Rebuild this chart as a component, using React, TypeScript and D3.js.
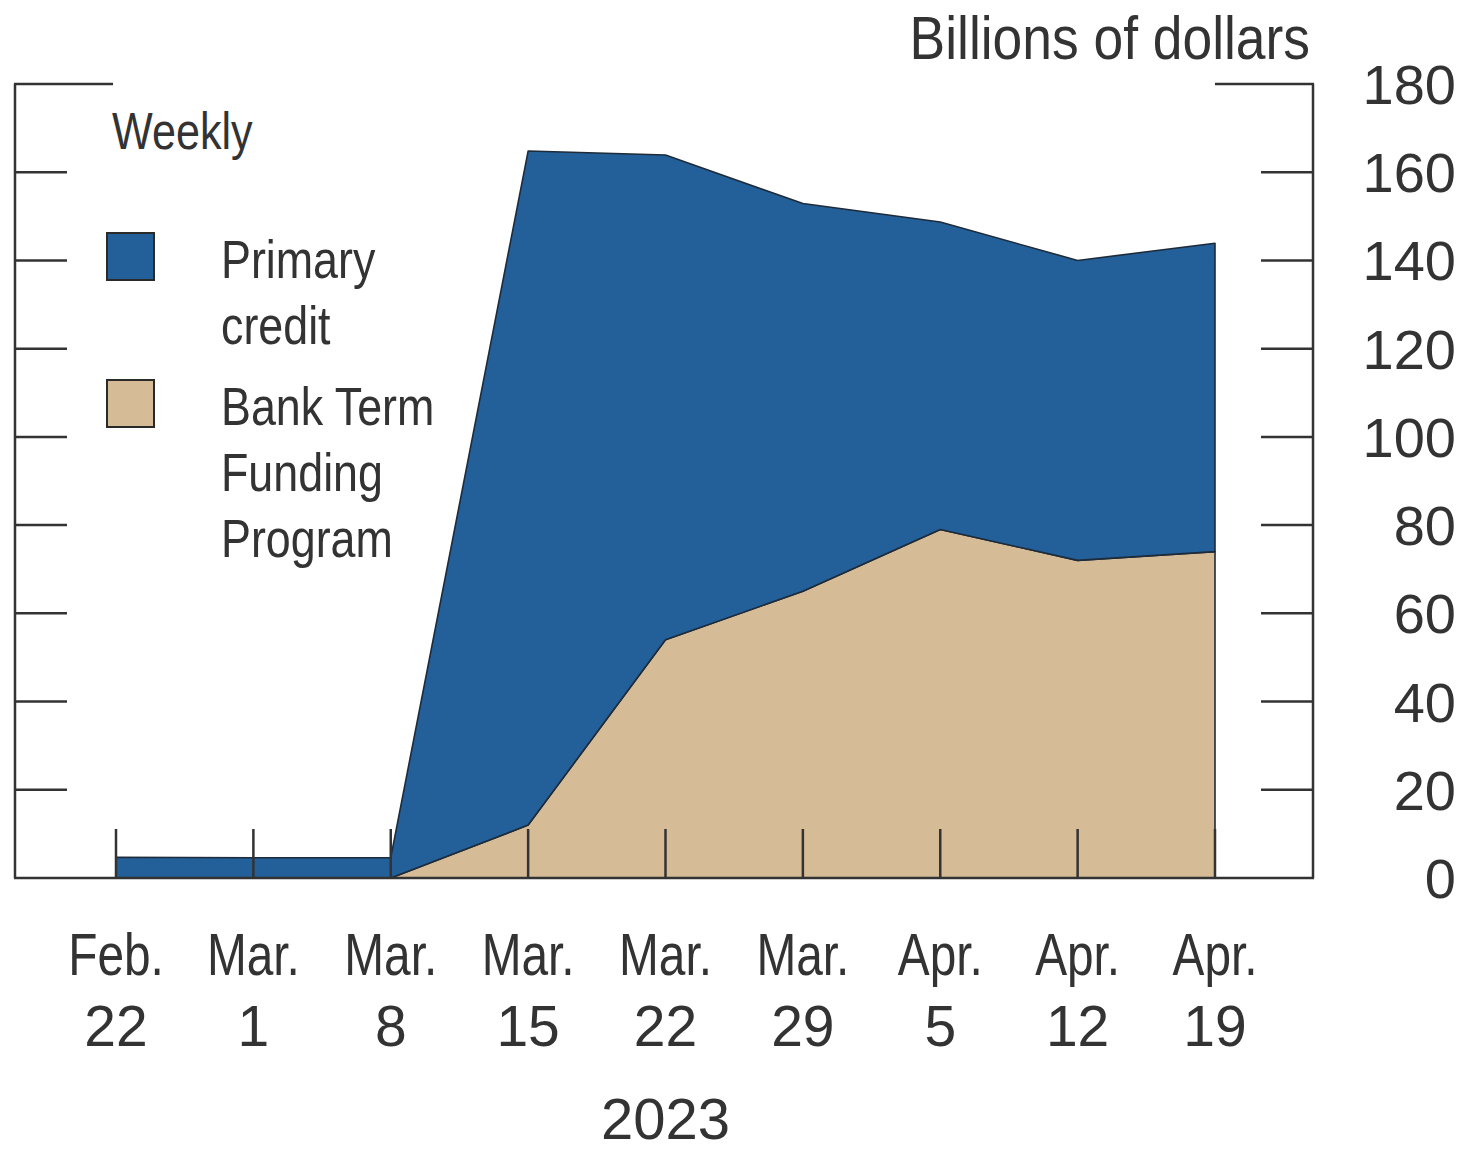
import React from "react";
import * as d3 from "d3";

const months = ["Feb.", "Mar.", "Mar.", "Mar.", "Mar.", "Mar.", "Apr.", "Apr.", "Apr."];
const days = ["22", "1", "8", "15", "22", "29", "5", "12", "19"];
const dates = months.map((m, i) => `${m} ${days[i]}`);
const btfp = [0, 0, 0, 12, 54, 65, 79, 72, 74];
const primaryCredit = [4.7, 4.6, 4.6, 152.8, 109.9, 87.9, 69.7, 68, 69.9];
const yTicks = [0, 20, 40, 60, 80, 100, 120, 140, 160, 180];
const yearLabel = "2023";
const unitLabel = "Billions of dollars";
const frequencyLabel = "Weekly";
const legendItems = [
  { key: "primary", lines: ["Primary", "credit"], color: "#23609a" },
  { key: "btfp", lines: ["Bank Term", "Funding", "Program"], color: "#d6bb97" },
];

const W = 1473;
const H = 1153;
const frameL = 15;
const frameR = 1313;
const ink = "#333";
const font = "'Liberation Sans', Arial, sans-serif";

function CondText({
  x,
  y,
  size,
  anchor = "start",
  sx = 0.83,
  children,
}: {
  x: number;
  y: number;
  size: number;
  anchor?: string;
  sx?: number;
  children: React.ReactNode;
}) {
  return (
    <g transform={`translate(${x},${y}) scale(${sx},1)`}>
      <text x={0} y={0} textAnchor={anchor as any} fontFamily={font} fontSize={size} fill={ink}>
        {children}
      </text>
    </g>
  );
}

export default function App() {
  const x = d3.scalePoint<string>().domain(dates).range([116, 1215]);
  const y = d3.scaleLinear().domain([0, 180]).range([878, 84]);

  const rows = dates.map((d, i) => ({ date: d, btfp: btfp[i], primary: primaryCredit[i] }));
  const series = d3.stack<any>().keys(["btfp", "primary"])(rows);
  const area = d3
    .area<any>()
    .x((d) => x(d.data.date) as number)
    .y0((d) => y(d[0]))
    .y1((d) => y(d[1]));
  const colors: Record<string, string> = { btfp: "#d6bb97", primary: "#23609a" };

  return (
    <svg
      width={W}
      height={H}
      style={{ position: "absolute", left: 0, top: 0, background: "#fff" }}
    >
      {/* areas */}
      {series.map((s) => (
        <path
          key={s.key}
          d={area(s) || ""}
          fill={colors[s.key]}
          stroke="#1d2b3a"
          strokeWidth={1.6}
          strokeLinejoin="round"
        />
      ))}

      {/* frame */}
      <line x1={frameL} x2={frameL} y1={y(180)} y2={y(0)} stroke={ink} strokeWidth={2.5} />
      <line x1={frameR} x2={frameR} y1={y(180)} y2={y(0)} stroke={ink} strokeWidth={2.5} />
      <line x1={frameL - 1} x2={frameR + 1} y1={y(0)} y2={y(0)} stroke={ink} strokeWidth={2.5} />
      <line x1={frameL - 1} x2={113} y1={y(180)} y2={y(180)} stroke={ink} strokeWidth={2.5} />
      <line x1={1215} x2={frameR + 1} y1={y(180)} y2={y(180)} stroke={ink} strokeWidth={2.5} />

      {/* y ticks */}
      {yTicks
        .filter((t) => t > 0 && t < 180)
        .map((t) => (
          <g key={t}>
            <line x1={frameL} x2={frameL + 52} y1={y(t)} y2={y(t)} stroke={ink} strokeWidth={2.5} />
            <line x1={frameR - 52} x2={frameR} y1={y(t)} y2={y(t)} stroke={ink} strokeWidth={2.5} />
          </g>
        ))}
      {yTicks.map((t) => (
        <text
          key={"l" + t}
          x={1456}
          y={y(t) + 20}
          textAnchor="end"
          fontFamily={font}
          fontSize={56}
          fill={ink}
        >
          {t}
        </text>
      ))}

      {/* x ticks */}
      {dates.map((d) => (
        <line
          key={d}
          x1={x(d) as number}
          x2={x(d) as number}
          y1={y(0)}
          y2={y(0) - 49}
          stroke={ink}
          strokeWidth={2.5}
        />
      ))}
      {dates.map((d, i) => (
        <g key={"xl" + d}>
          <CondText x={x(d) as number} y={975} size={59} anchor="middle" sx={0.81}>
            {months[i]}
          </CondText>
          <text
            x={x(d) as number}
            y={1046}
            textAnchor="middle"
            fontFamily={font}
            fontSize={57}
            fill={ink}
          >
            {days[i]}
          </text>
        </g>
      ))}
      <text
        x={x(dates[4]) as number}
        y={1139}
        textAnchor="middle"
        fontFamily={font}
        fontSize={58}
        fill={ink}
      >
        {yearLabel}
      </text>

      {/* unit label */}
      <CondText x={1310} y={59} size={61} anchor="end" sx={0.875}>
        {unitLabel}
      </CondText>

      {/* legend */}
      <CondText x={112} y={149} size={52} sx={0.83}>
        {frequencyLabel}
      </CondText>
      {legendItems.map((item, i) => {
        const top = i === 0 ? 233 : 380;
        return (
          <g key={item.key}>
            <rect
              x={107}
              y={top}
              width={47}
              height={47}
              fill={item.color}
              stroke="#2a2a2a"
              strokeWidth={2}
            />
            {item.lines.map((ln, j) => (
              <CondText key={ln} x={221} y={top + 45 + j * 66} size={54} sx={0.83}>
                {ln}
              </CondText>
            ))}
          </g>
        );
      })}
    </svg>
  );
}
